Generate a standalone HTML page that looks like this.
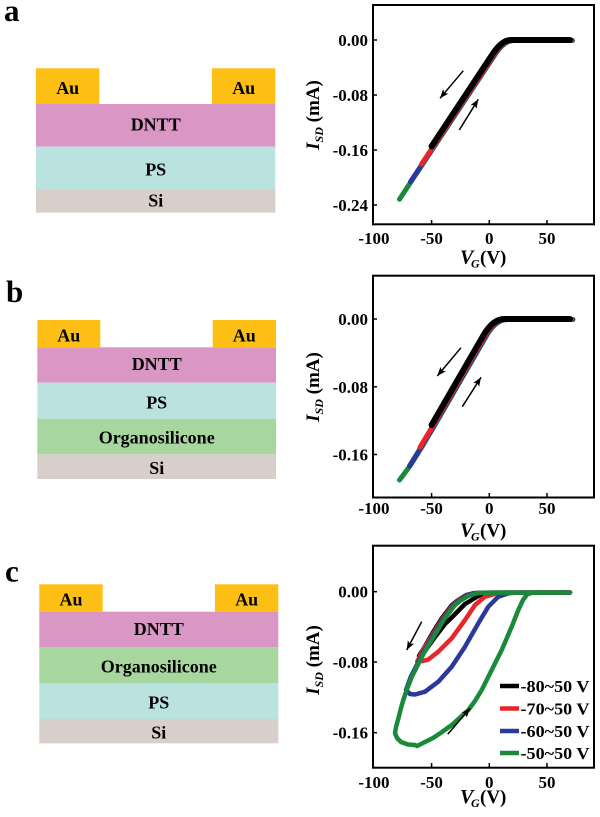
<!DOCTYPE html>
<html><head><meta charset="utf-8"><style>
html,body{margin:0;padding:0;background:#fff;}
svg{display:block;font-family:"Liberation Serif","Times New Roman","DejaVu Serif",serif;}
text,tspan{font-family:"Liberation Serif","Times New Roman","DejaVu Serif",serif;font-weight:bold;}
text{fill:#000;}
</style></head><body>
<svg width="600" height="817" viewBox="0 0 600 817" xmlns="http://www.w3.org/2000/svg" font-family="Liberation Serif, Times New Roman, DejaVu Serif, serif" font-weight="bold">
<defs>
<marker id="ah" markerUnits="userSpaceOnUse" markerWidth="10" markerHeight="8" refX="9" refY="3.5" orient="auto">
<path d="M0,0 L9,3.5 L0,7 L2,3.5 Z" fill="#000"/>
</marker>
</defs>
<rect width="600" height="817" fill="#fff"/>

<!-- panel letters -->
<text x="4" y="21" font-size="31">a</text>
<text x="6" y="302" font-size="31">b</text>
<text x="5" y="581.5" font-size="31">c</text>

<!-- diagram a -->
<g>
<rect x="36" y="68.3" width="63.3" height="35.7" fill="#FDBF14"/>
<rect x="212" y="68.3" width="63.3" height="35.7" fill="#FDBF14"/>
<rect x="36" y="104" width="239.3" height="42.7" fill="#DA96C5"/>
<rect x="36" y="146.7" width="239.3" height="43.3" fill="#BAE3E0"/>
<rect x="36" y="190" width="239.3" height="22.7" fill="#D9CFCA"/>
<g font-size="18" text-anchor="middle">
<text x="67.7" y="94">Au</text>
<text x="243.7" y="94">Au</text>
<text x="155.7" y="130.7">DNTT</text>
<text x="155.7" y="175.7">PS</text>
<text x="155.7" y="206.7">Si</text>
</g>
</g>

<!-- diagram b -->
<g>
<rect x="37.3" y="320" width="63" height="27.3" fill="#FDBF14"/>
<rect x="212.7" y="320" width="63.3" height="27.3" fill="#FDBF14"/>
<rect x="37.3" y="347.3" width="238.7" height="35.4" fill="#DA96C5"/>
<rect x="37.3" y="382.7" width="238.7" height="36" fill="#BAE3E0"/>
<rect x="37.3" y="418.7" width="238.7" height="35.6" fill="#A7D79E"/>
<rect x="37.3" y="454.3" width="238.7" height="24.7" fill="#D9CFCA"/>
<g font-size="18" text-anchor="middle">
<text x="68.8" y="341.7">Au</text>
<text x="244.3" y="341.7">Au</text>
<text x="156.7" y="370">DNTT</text>
<text x="156.7" y="408.3">PS</text>
<text x="156.7" y="443.3">Organosilicone</text>
<text x="156.7" y="474">Si</text>
</g>
</g>

<!-- diagram c -->
<g>
<rect x="39.3" y="584.3" width="63.4" height="27.4" fill="#FDBF14"/>
<rect x="215" y="584.3" width="63.3" height="27.4" fill="#FDBF14"/>
<rect x="39.3" y="611.7" width="239" height="35.6" fill="#DA96C5"/>
<rect x="39.3" y="647.3" width="239" height="36" fill="#A7D79E"/>
<rect x="39.3" y="683.3" width="239" height="35.7" fill="#BAE3E0"/>
<rect x="39.3" y="719" width="239" height="24.3" fill="#D9CFCA"/>
<g font-size="18" text-anchor="middle">
<text x="71" y="605.7">Au</text>
<text x="246.7" y="605.7">Au</text>
<text x="158.8" y="635">DNTT</text>
<text x="158.8" y="672.3">Organosilicone</text>
<text x="158.8" y="708.3">PS</text>
<text x="158.8" y="738.3">Si</text>
</g>
</g>

<!-- ============ PLOT A ============ -->
<g>
<g fill="none" stroke-linecap="round" stroke-linejoin="round">
<path d="M397,198.7 L408.5,181.3 L420.1,163.8 L431.6,146.3 L492.8,53.8 Q501.9,40 511,40 L570,40" stroke="#1A8A3A" stroke-width="5" transform="translate(2.5,0.5)"/>
<path d="M408.5,181.3 L420.1,163.8 L431.6,146.3 L492.8,53.8 Q501.9,40 511,40 L570,40" stroke="#2B3A9A" stroke-width="5" transform="translate(2,0.5)"/>
<path d="M420.1,163.8 L431.6,146.3 L492.8,53.8 Q501.9,40 511,40 L570,40" stroke="#E8262A" stroke-width="5" transform="translate(1.5,0.3)"/>
<path d="M431.6,146.3 L492.8,53.8 Q501.9,40 511,40 L570,40" stroke="#000" stroke-width="6"/>
</g>
<line x1="463.3" y1="70.7" x2="440" y2="98.3" stroke="#000" stroke-width="1.5" marker-end="url(#ah)"/>
<line x1="459.3" y1="130" x2="478.3" y2="99.3" stroke="#000" stroke-width="1.5" marker-end="url(#ah)"/>
<rect x="373" y="5" width="221" height="219.3" fill="none" stroke="#000" stroke-width="2"/>
<g stroke="#000" stroke-width="1.5">
<line x1="431.6" y1="224" x2="431.6" y2="220"/>
<line x1="489.3" y1="224" x2="489.3" y2="220"/>
<line x1="547" y1="224" x2="547" y2="220"/>
<line x1="373" y1="40" x2="377" y2="40"/>
<line x1="373" y1="95" x2="377" y2="95"/>
<line x1="373" y1="150" x2="377" y2="150"/>
<line x1="373" y1="205" x2="377" y2="205"/>
</g>
<g font-size="17" text-anchor="end">
<text x="368" y="46">0.00</text>
<text x="368" y="101">-0.08</text>
<text x="368" y="156">-0.16</text>
<text x="368" y="211">-0.24</text>
</g>
<g font-size="17" text-anchor="middle">
<text x="373.9" y="244">-100</text>
<text x="431.6" y="244">-50</text>
<text x="489.3" y="244">0</text>
<text x="547" y="244">50</text>
</g>
<text x="460" y="263.5" font-size="20" font-style="italic">V</text>
<text x="471" y="267.5" font-size="12" font-style="italic">G</text>
<text x="480" y="263.5" font-size="19">(V)</text>
<text transform="translate(319,115) rotate(-90)" font-size="19" text-anchor="middle"><tspan font-style="italic">I</tspan><tspan font-size="12" font-style="italic" dy="4">SD</tspan><tspan dy="-4"> (mA)</tspan></text>
</g>

<!-- ============ PLOT B ============ -->
<g>
<g fill="none" stroke-linecap="round" stroke-linejoin="round">
<path d="M396.5,479.5 L407,465.5 L418.5,447 L431.6,425 L483.5,335.2 Q493,319 504.3,319 L570,319" stroke="#1A8A3A" stroke-width="5" transform="translate(3,0.5)"/>
<path d="M407,465.5 L418.5,447 L431.6,425 L483.5,335.2 Q493,319 504.3,319 L570,319" stroke="#2B3A9A" stroke-width="5" transform="translate(2.5,0.5)"/>
<path d="M418.5,447 L431.6,425 L483.5,335.2 Q493,319 504.3,319 L570,319" stroke="#E8262A" stroke-width="5" transform="translate(1.5,0.3)"/>
<path d="M431.6,425 L483.5,335.2 Q493,319 504.3,319 L570,319" stroke="#000" stroke-width="6"/>
</g>
<line x1="461" y1="347.7" x2="437.3" y2="376" stroke="#000" stroke-width="1.5" marker-end="url(#ah)"/>
<line x1="462.3" y1="406.7" x2="481" y2="377.3" stroke="#000" stroke-width="1.5" marker-end="url(#ah)"/>
<rect x="373" y="275.7" width="221" height="221.8" fill="none" stroke="#000" stroke-width="2"/>
<g stroke="#000" stroke-width="1.5">
<line x1="431.6" y1="497" x2="431.6" y2="493"/>
<line x1="489.3" y1="497" x2="489.3" y2="493"/>
<line x1="547" y1="497" x2="547" y2="493"/>
<line x1="373" y1="319" x2="377" y2="319"/>
<line x1="373" y1="386.8" x2="377" y2="386.8"/>
<line x1="373" y1="454.5" x2="377" y2="454.5"/>
</g>
<g font-size="17" text-anchor="end">
<text x="368" y="325">0.00</text>
<text x="368" y="392.8">-0.08</text>
<text x="368" y="460.5">-0.16</text>
</g>
<g font-size="17" text-anchor="middle">
<text x="373.9" y="514">-100</text>
<text x="431.6" y="514">-50</text>
<text x="489.3" y="514">0</text>
<text x="547" y="514">50</text>
</g>
<text x="460" y="536.7" font-size="20" font-style="italic">V</text>
<text x="471" y="540.7" font-size="12" font-style="italic">G</text>
<text x="480" y="536.7" font-size="19">(V)</text>
<text transform="translate(319,387) rotate(-90)" font-size="19" text-anchor="middle"><tspan font-style="italic">I</tspan><tspan font-size="12" font-style="italic" dy="4">SD</tspan><tspan dy="-4"> (mA)</tspan></text>
</g>

<!-- ============ PLOT C ============ -->
<g>
<g fill="none" stroke-linecap="round" stroke-linejoin="round" stroke-width="4.5">
<!-- black loop -->
<path d="M570,592.5 L480,592.7 L473,593.3 L465.3,595.5 L457,601 L452,605 L442,618 L432,634 L424,648 L419,656 L421,656 L425,651 L435,637 L445,624 L451.7,617.5 L465,604 L478.3,596 L488,593" stroke="#000"/>
<!-- red loop -->
<path d="M570,592.5 L480,592.7 L474,593.3 L466.3,595 L458,601 L453,605 L443,618 L433,634 L423,650 L417.3,661.5 L423,661 L428.3,659.5 L438.3,651.7 L451.7,638.3 L465,620 L475,605 L485,596.7 L495,593.8 L502,592.7" stroke="#E8262A"/>
<!-- blue loop -->
<path d="M570,592.5 L480,592.7 L475,593.3 L467.3,595 L459,601 L454,605 L444,618 L434,634 L424,651 L417.3,664 L410.7,677 L406,690 L410,694 L415,694.5 L425,691.7 L438.3,681.7 L451.7,666.7 L465,646.7 L478.3,623.3 L488.3,606.7 L498.3,596.7 L508.3,593.3 L515,592.7" stroke="#2B3A9A"/>
<!-- green loop -->
<path d="M570,592.5 L482,592.7 L476.5,593.3 L468.3,596 L460,601 L455,605 L445,618 L435,634.5 L425,651 L418.3,664 L411.7,677 L406.7,690 L403.3,700 L401,708 L398.5,718 L396,727 L395,733 L397,738 L401,742 L408,744.5 L415,745 L417,746 L424,742.5 L433,738 L442,732 L451.7,725 L468.3,710 L475,701 L481.7,690 L491.7,670 L501.7,650 L511.7,626.7 L518.3,610 L523,600 L527,594.5 L532,592.7 L570,592.5" stroke="#1A8A3A"/>
</g>
<line x1="421.7" y1="621.7" x2="406.7" y2="650" stroke="#000" stroke-width="1.5" marker-end="url(#ah)"/>
<line x1="447.7" y1="734.3" x2="470" y2="708.3" stroke="#000" stroke-width="1.5" marker-end="url(#ah)"/>
<!-- legend -->
<g stroke-width="4.5">
<line x1="500" y1="686" x2="519" y2="686" stroke="#000"/>
<line x1="500" y1="708.5" x2="519" y2="708.5" stroke="#E8262A"/>
<line x1="500" y1="731" x2="519" y2="731" stroke="#2B3A9A"/>
<line x1="500" y1="753" x2="519" y2="753" stroke="#1A8A3A"/>
</g>
<g font-size="17">
<text x="520.5" y="692" textLength="69" lengthAdjust="spacingAndGlyphs">-80~50 V</text>
<text x="520.5" y="714.5" textLength="69" lengthAdjust="spacingAndGlyphs">-70~50 V</text>
<text x="520.5" y="737" textLength="69" lengthAdjust="spacingAndGlyphs">-60~50 V</text>
<text x="520.5" y="759" textLength="69" lengthAdjust="spacingAndGlyphs">-50~50 V</text>
</g>
<rect x="373" y="545.7" width="221" height="222" fill="none" stroke="#000" stroke-width="2"/>
<g stroke="#000" stroke-width="1.5">
<line x1="431.6" y1="767" x2="431.6" y2="763"/>
<line x1="489.3" y1="767" x2="489.3" y2="763"/>
<line x1="547" y1="767" x2="547" y2="763"/>
<line x1="373" y1="591.7" x2="377" y2="591.7"/>
<line x1="373" y1="662" x2="377" y2="662"/>
<line x1="373" y1="732.7" x2="377" y2="732.7"/>
</g>
<g font-size="17" text-anchor="end">
<text x="368" y="597.7">0.00</text>
<text x="368" y="668">-0.08</text>
<text x="368" y="738.7">-0.16</text>
</g>
<g font-size="17" text-anchor="middle">
<text x="373.9" y="788">-100</text>
<text x="431.6" y="788">-50</text>
<text x="489.3" y="788">0</text>
<text x="547" y="788">50</text>
</g>
<text x="460" y="803" font-size="20" font-style="italic">V</text>
<text x="471" y="807" font-size="12" font-style="italic">G</text>
<text x="480" y="803" font-size="19">(V)</text>
<text transform="translate(319,660) rotate(-90)" font-size="19" text-anchor="middle"><tspan font-style="italic">I</tspan><tspan font-size="12" font-style="italic" dy="4">SD</tspan><tspan dy="-4"> (mA)</tspan></text>
</g>
</svg>
</body></html>
